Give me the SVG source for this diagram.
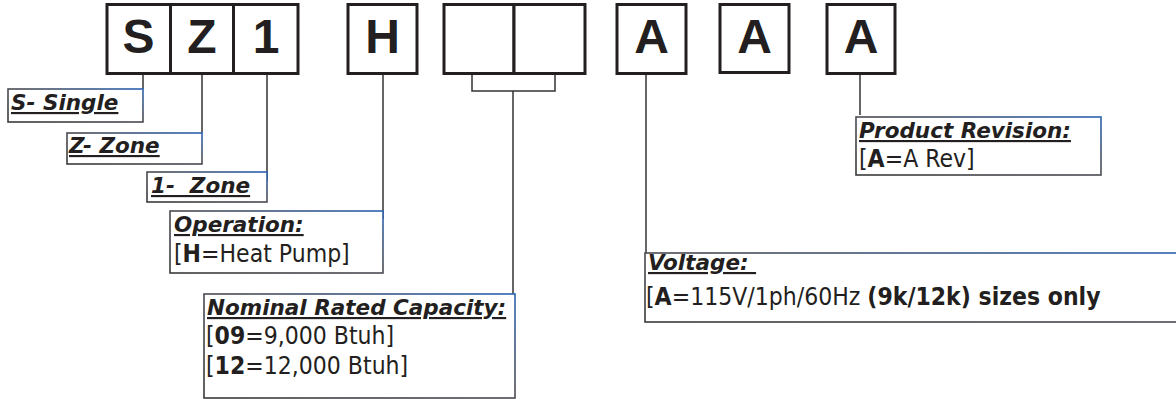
<svg xmlns="http://www.w3.org/2000/svg" width="1176" height="399" viewBox="0 0 1176 399">
<defs>
<linearGradient id="edge" x1="0" y1="1" x2="1" y2="0">
<stop offset="0" stop-color="#3a3a3a"/>
<stop offset="0.55" stop-color="#4a4d55"/>
<stop offset="1" stop-color="#2c63b2"/>
</linearGradient>
<style>
.code{fill:#fff;stroke:#231f20;stroke-width:3}
.big{font-family:"Liberation Sans",Arial,sans-serif;font-weight:bold;font-size:48px;fill:#231f20;text-anchor:middle}
.lbox{fill:#fff;stroke:url(#edge);stroke-width:1.6}
.head{font-family:"DejaVu Sans",Verdana,sans-serif;font-weight:bold;font-style:italic;font-size:21.5px;fill:#231f20;text-decoration:underline}
.body{font-family:"DejaVu Sans Condensed","DejaVu Sans",sans-serif;font-stretch:condensed;font-size:24.5px;fill:#231f20}
.b{font-weight:bold}
.conn{fill:none;stroke:#333;stroke-width:1.5}
</style>
</defs>
<g id="connectors">
<line class="conn" x1="143" y1="74" x2="143" y2="89"/>
<line class="conn" x1="202" y1="74" x2="202" y2="133"/>
<line class="conn" x1="267" y1="74" x2="267" y2="181"/>
<line class="conn" x1="383" y1="74" x2="383" y2="219"/>
<path class="conn" d="M472 74 V91 H555 V74" stroke-width="2"/>
<line class="conn" x1="513" y1="91" x2="513" y2="296"/>
<line class="conn" x1="646" y1="74" x2="646" y2="260"/>
<line class="conn" x1="860" y1="74" x2="860" y2="115"/>
</g>
<g id="code-S"><rect class="code" x="107" y="4.5" width="63.5" height="69"/><text class="big" x="138.5" y="53">S</text></g>
<g id="code-Z"><rect class="code" x="170.5" y="4.5" width="63" height="69"/><text class="big" x="202" y="53">Z</text></g>
<g id="code-1"><rect class="code" x="233.5" y="4.5" width="64.5" height="69"/><text class="big" x="266" y="53">1</text></g>
<g id="code-H"><rect class="code" x="348" y="4.5" width="69" height="69"/><text class="big" x="382.5" y="53">H</text></g>
<g id="code-cap1"><rect class="code" x="444" y="4.5" width="70" height="69"/></g>
<g id="code-cap2"><rect class="code" x="514" y="4.5" width="71" height="69"/></g>
<g id="code-A1"><rect class="code" x="617" y="4.5" width="69" height="69"/><text class="big" x="651.5" y="53">A</text></g>
<g id="code-A2"><rect class="code" x="720" y="4.5" width="69" height="68"/><text class="big" x="754.5" y="53">A</text></g>
<g id="code-A3"><rect class="code" x="827" y="4.5" width="68" height="69"/><text class="big" x="861" y="53">A</text></g>
<g id="label-single"><rect class="lbox" x="8" y="89" width="135" height="33"/><text class="head" x="11" y="110">S- Single</text></g>
<g id="label-zone"><rect class="lbox" x="67" y="133" width="135" height="31"/><text class="head" x="69" y="153">Z- Zone</text></g>
<g id="label-1zone"><rect class="lbox" x="147" y="172" width="120" height="30"/><text class="head" x="151" y="193" xml:space="preserve">1-  Zone</text></g>
<g id="label-operation"><rect class="lbox" x="170" y="211" width="213" height="62"/><text class="head" x="174" y="232">Operation:</text><text class="body" x="174" y="262">[<tspan class="b">H</tspan>=Heat Pump]</text></g>
<g id="label-capacity"><rect class="lbox" x="204" y="294" width="311" height="104"/><text class="head" x="207" y="315">Nominal Rated Capacity:</text><text class="body" x="206" y="344">[<tspan class="b">09</tspan>=9,000 Btuh]</text><text class="body" x="206" y="374">[<tspan class="b">12</tspan>=12,000 Btuh]</text></g>
<g id="label-voltage"><rect class="lbox" x="645" y="253" width="545" height="69"/><text class="head" x="648" y="270" xml:space="preserve">Voltage: </text><text class="body" x="646" y="305">[<tspan class="b">A</tspan>=115V/1ph/60Hz <tspan class="b">(9k/12k) sizes only</tspan></text></g>
<g id="label-revision"><rect class="lbox" x="856" y="117" width="245" height="58"/><text class="head" x="859" y="138">Product Revision:</text><text class="body" x="859" y="167">[<tspan class="b">A</tspan>=A Rev]</text></g>
</svg>
